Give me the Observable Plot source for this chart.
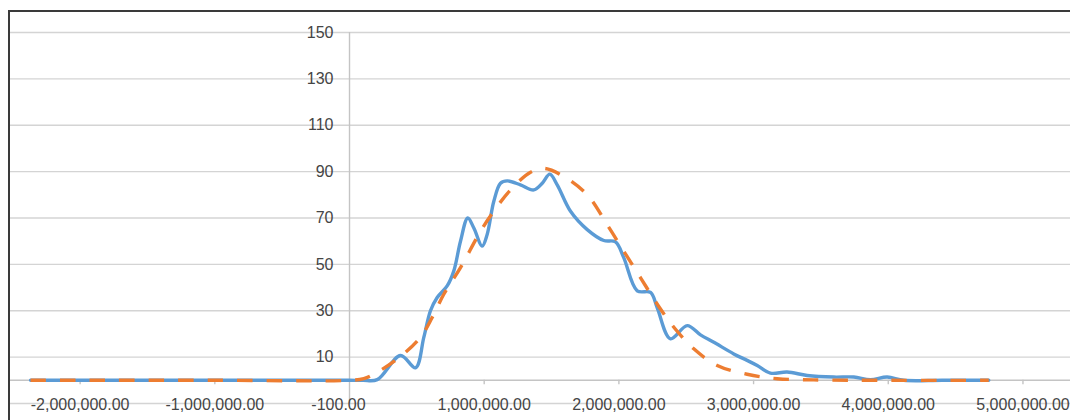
<!DOCTYPE html>
<html>
<head>
<meta charset="utf-8">
<script src="https://cdn.jsdelivr.net/npm/d3@7"></script>
<script src="https://cdn.jsdelivr.net/npm/@observablehq/plot@0.6"></script>
<style>
  html, body { margin: 0; padding: 0; background: #ffffff; }
  #wrap { position: relative; width: 1070px; height: 420px; overflow: hidden; background: #ffffff; }
  #wrap svg { position: absolute; left: 0; top: 0; }
  #frame { position: absolute; left: 8px; top: 10px; width: 1070px; height: 420px;
           border-top: 2px solid #3a3a3a; border-left: 2px solid #3a3a3a; pointer-events: none; }
</style>
</head>
<body>
<div id="wrap"><div id="frame"></div></div>
<script>
// Observed frequency (blue, solid, smoothed)
const observedX = [-2368000, -1000000, 0, 100000, 206000, 379000, 490000, 552000, 601000, 651000, 725000, 774000, 824000, 878000, 923000, 985000, 1022000, 1071000, 1121000, 1171000, 1269000, 1368000, 1431000, 1487000, 1542000, 1641000, 1765000, 1888000, 1975000, 2036000, 2136000, 2235000, 2284000, 2383000, 2507000, 2606000, 2705000, 2853000, 2952000, 3027000, 3125000, 3249000, 3398000, 3595000, 3744000, 3868000, 3992000, 4115000, 4400000, 4746000];
const observedY = [0, 0, 0, 0, 0.3, 10.7, 5.4, 18.6, 30, 35.7, 40.7, 47.1, 60, 70, 65.7, 57.9, 62.9, 77.1, 85, 86, 84.3, 82.1, 85, 88.9, 84.3, 72.9, 65, 60.3, 59.7, 52.9, 38.6, 37.9, 31.4, 17.9, 23.6, 19.6, 16.4, 11.4, 8.6, 6.4, 3.1, 3.6, 2.1, 1.4, 1.4, 0.3, 1.4, 0, 0, 0];

// Fitted normal (orange, dashed)
const fittedX = [-2368000, -1000000, 0, 106000, 230000, 379000, 527000, 614000, 700000, 824000, 973000, 1071000, 1195000, 1344000, 1443000, 1591000, 1765000, 1913000, 2036000, 2160000, 2284000, 2408000, 2556000, 2730000, 2952000, 3175000, 3447000, 4000000, 4746000];
const fittedY = [0, 0, 0, 0.7, 4.3, 10.3, 18.6, 27.1, 37.1, 48.6, 64.3, 72.9, 82.1, 89.7, 91.4, 87.9, 80, 67.1, 55.7, 44.3, 32.9, 22.9, 13.6, 6.4, 2.6, 0.7, 0.2, 0, 0];

// Axis ticks
const yGridValues = [-10, 10, 30, 50, 70, 90, 110, 130, 150];
const yTickValues = [10, 30, 50, 70, 90, 110, 130, 150];
const yTickLabels = ["10", "30", "50", "70", "90", "110", "130", "150"];
const xTickValues = [-2000000, -1000000, -100, 1000000, 2000000, 3000000, 4000000, 5000000];
const xTickLabels = ["-2,000,000.00", "-1,000,000.00", "-100.00", "1,000,000.00", "2,000,000.00", "3,000,000.00", "4,000,000.00", "5,000,000.00"];

const observed = observedX.map((x, i) => ({x, y: observedY[i]}));
const fitted = fittedX.map((x, i) => ({x, y: fittedY[i]}));
const yTicks = yTickValues.map((v, i) => ({v, label: yTickLabels[i]}));
const xTicks = xTickValues.map((v, i) => ({v, label: xTickLabels[i]}));

const labelColor = "#454545";
const gridColor = "#d4d4d4";
const font = "'Liberation Sans', Arial, sans-serif";

const chart = Plot.plot({
  width: 1070,
  height: 420,
  marginLeft: 10,
  marginRight: 0,
  marginTop: 32,
  marginBottom: 17,
  x: {domain: [-2517000, 5353000], axis: null},
  y: {domain: [-10, 150], axis: null},
  style: {fontFamily: font, fontSize: "16px", background: "transparent", overflow: "visible"},
  marks: [
    Plot.ruleY(yGridValues, {stroke: gridColor, strokeWidth: 1.4}),
    Plot.ruleY([0], {stroke: "#c4c4c4", strokeWidth: 1.4}),
    Plot.ruleX([0], {y1: -10, y2: 150, stroke: "#c4c4c4", strokeWidth: 1.4}),
    Plot.ruleX(xTicks.filter(d => Math.abs(d.v) > 1000), {x: "v", y1: 0, y2: -1.9, stroke: "#c4c4c4", strokeWidth: 1.4}),
    Plot.text(yTicks, {x: 0, y: "v", text: "label", textAnchor: "end", dx: -16, fill: labelColor, fontSize: 16, fontFamily: font}),
    Plot.text(xTicks.filter(d => Math.abs(d.v) > 1000), {x: "v", y: -10, text: "label", dy: 1, fill: labelColor, fontSize: 16, fontFamily: font}),
    Plot.text(xTicks.filter(d => Math.abs(d.v) <= 1000), {x: "v", y: -10, text: "label", dy: 1, dx: -11, fill: labelColor, fontSize: 16, fontFamily: font}),
    Plot.line(observed, {x: "x", y: "y", stroke: "#5B9BD5", strokeWidth: 3.4, curve: "catmull-rom", strokeLinejoin: "round", strokeLinecap: "round"}),
    Plot.line(fitted, {x: "x", y: "y", stroke: "#ED7D31", strokeWidth: 3.4, curve: "catmull-rom", strokeDasharray: "15.5,14", strokeLinecap: "butt"})
  ]
});
document.getElementById("wrap").insertBefore(chart, document.getElementById("frame"));
</script>
</body>
</html>
